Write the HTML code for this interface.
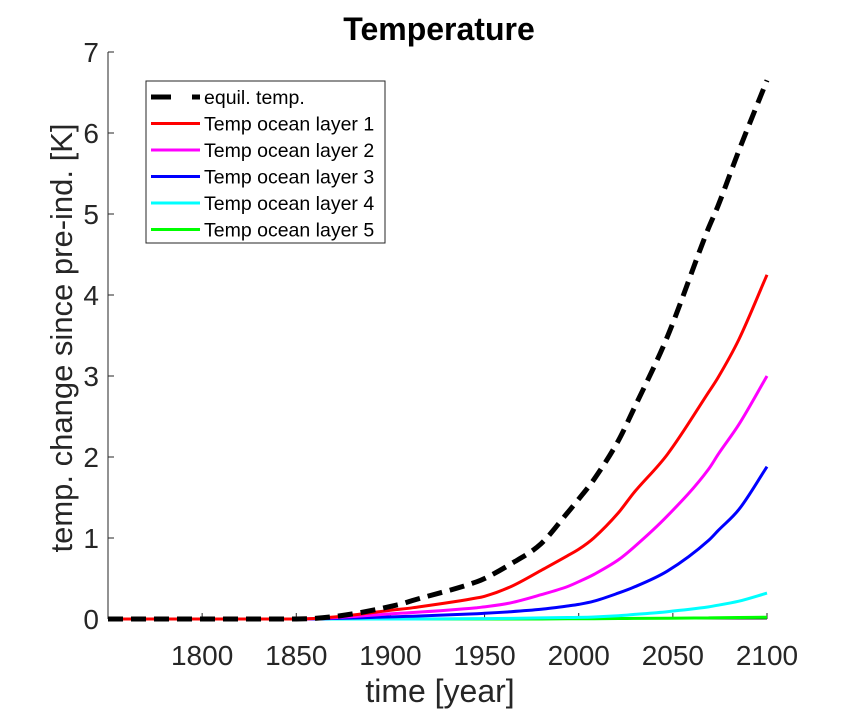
<!DOCTYPE html>
<html><head><meta charset="utf-8"><style>
html,body{margin:0;padding:0;background:#fff;}
svg text{font-family:"Liberation Sans",Arial,sans-serif;}
</style></head><body>
<svg id="chart" width="848" height="712" viewBox="0 0 848 712" xmlns="http://www.w3.org/2000/svg">
<rect width="848" height="712" fill="#fff"/>
<text x="439" y="40" text-anchor="middle" font-size="32" font-weight="bold" fill="#000">Temperature</text>
<g id="axes"></g>
<g id="series"></g>
<text x="440" y="702" text-anchor="middle" font-size="32" fill="#262626">time [year]</text>
<text transform="translate(72,338) rotate(-90)" text-anchor="middle" font-size="31" fill="#262626">temp. change since pre-ind. [K]</text>
<g>
<rect x="146" y="81" width="239" height="162" fill="#fff" stroke="#262626" stroke-width="1"/>
<g id="legend-items"></g>
</g>
</svg>
<script>
const years = [1750, 1850, 1905, 1912, 1946, 1950, 1964, 1980, 1994, 2000, 2008, 2021, 2029, 2047, 2069, 2074, 2085, 2100];
const equil = [0, 0, 0.18, 0.23, 0.46, 0.5, 0.68, 0.93, 1.31, 1.48, 1.72, 2.2, 2.58, 3.48, 4.83, 5.1, 5.78, 6.65];
const layer1 = [0, 0, 0.12, 0.14, 0.26, 0.28, 0.4, 0.6, 0.78, 0.86, 1.0, 1.31, 1.55, 2.03, 2.8, 2.98, 3.45, 4.25];
const layer2 = [0, 0, 0.07, 0.08, 0.14, 0.15, 0.2, 0.3, 0.4, 0.46, 0.55, 0.73, 0.88, 1.27, 1.85, 2.03, 2.4, 3.0];
const layer3 = [0, 0, 0.03, 0.035, 0.065, 0.07, 0.09, 0.12, 0.16, 0.18, 0.22, 0.32, 0.39, 0.59, 0.97, 1.09, 1.35, 1.88];
const layer4 = [0, 0, 0, 0, 0.005, 0.005, 0.008, 0.014, 0.018, 0.02, 0.025, 0.04, 0.055, 0.09, 0.15, 0.17, 0.22, 0.32];
const layer5 = [0, 0, 0, 0, 0, 0, 0, 0, 0.002, 0.003, 0.004, 0.006, 0.007, 0.01, 0.014, 0.015, 0.018, 0.022];
const xTicks = [1800, 1850, 1900, 1950, 2000, 2050, 2100];
const yTicks = [0, 1, 2, 3, 4, 5, 6, 7];
const seriesNames = ["equil. temp.", "Temp ocean layer 1", "Temp ocean layer 2", "Temp ocean layer 3", "Temp ocean layer 4", "Temp ocean layer 5"];

const X0 = 108, X1 = 767, Y0 = 619, Y1 = 52;
const xMin = 1750, xMax = 2100, yMin = 0, yMax = 7;
function sx(v){ return X0 + (v - xMin) / (xMax - xMin) * (X1 - X0); }
function sy(v){ return Y0 - (v - yMin) / (yMax - yMin) * (Y0 - Y1); }
const NS = "http://www.w3.org/2000/svg";
function mk(tag, attrs, parent){ const e = document.createElementNS(NS, tag); for (const k in attrs) e.setAttribute(k, attrs[k]); parent.appendChild(e); return e; }

function smoothPath(xs, ys){
  const n = xs.length, m = [], d = [];
  for (let i = 0; i < n - 1; i++) d.push((ys[i+1]-ys[i])/(xs[i+1]-xs[i]));
  for (let i = 0; i < n; i++){
    if (i === 0) m.push(d[0]); else if (i === n-1) m.push(d[n-2]);
    else m.push(d[i-1]*d[i] <= 0 ? 0 : (d[i-1]+d[i])/2);
  }
  for (let i = 0; i < n - 1; i++){
    if (d[i] === 0){ m[i] = 0; m[i+1] = 0; continue; }
    const a = m[i]/d[i], b = m[i+1]/d[i], s = a*a + b*b;
    if (s > 9){ const t = 3/Math.sqrt(s); m[i] = t*a*d[i]; m[i+1] = t*b*d[i]; }
  }
  let p = 'M' + xs[0].toFixed(1) + ',' + ys[0].toFixed(1);
  for (let i = 0; i < n - 1; i++){
    const h = (xs[i+1]-xs[i])/3;
    p += ' C' + (xs[i]+h).toFixed(1) + ',' + (ys[i]+m[i]*h).toFixed(1) + ' ' + (xs[i+1]-h).toFixed(1) + ',' + (ys[i+1]-m[i+1]*h).toFixed(1) + ' ' + xs[i+1].toFixed(1) + ',' + ys[i+1].toFixed(1);
  }
  return p;
}

const axes = document.getElementById('axes');
const xl = mk('line', {x1: X0, y1: Y0, x2: X1, y2: Y0, stroke: '#262626', 'stroke-width': 1}, axes);


const yl = mk('line', {x1: X0, y1: Y0, x2: X0, y2: Y1, stroke: '#262626', 'stroke-width': 1}, axes);


xTicks.forEach(t => {
  const x = sx(t);
  const tk = mk('line', {x1: x, y1: Y0, x2: x, y2: Y0 - 6, stroke: '#262626', 'stroke-width': 1}, axes);
  
  
  const tx = mk('text', {x: x, y: 665, 'text-anchor': 'middle', 'font-size': 28, fill: '#262626'}, axes);
  tx.textContent = t;
  
  
});
yTicks.forEach(t => {
  const y = sy(t);
  const tk = mk('line', {x1: X0, y1: y, x2: X0 + 6, y2: y, stroke: '#262626', 'stroke-width': 1}, axes);
  
  
  const tx = mk('text', {x: 99, y: y + 10, 'text-anchor': 'end', 'font-size': 28, fill: '#262626'}, axes);
  tx.textContent = t;
  
  
});

const seriesData = [equil, layer1, layer2, layer3, layer4, layer5];
const colors = ['#000000', '#ff0000', '#ff00ff', '#0000ff', '#00ffff', '#00ff00'];
const seriesKeys = ['equil-temp-line', 'ocean-layer-1-line', 'ocean-layer-2-line', 'ocean-layer-3-line', 'ocean-layer-4-line', 'ocean-layer-5-line'];
const sg = document.getElementById('series');
for (let s = seriesData.length - 1; s >= 0; s--) {
  const d = smoothPath(years.map(sx), seriesData[s].map(sy));
  const attrs = {d: d, fill: 'none', stroke: colors[s], 'stroke-width': s === 0 ? 5 : 3, 'stroke-linejoin': 'round'};
  if (s === 0) attrs['stroke-dasharray'] = '15 8';
  const p = mk('path', attrs, sg);
  
  
}

const lg = document.getElementById('legend-items');
seriesNames.forEach((n, i) => {
  const y = 97 + i * 26.5;
  const la = {x1: 151, y1: y, x2: 200, y2: y, stroke: colors[i], 'stroke-width': i === 0 ? 5 : 3};
  if (i === 0) la['stroke-dasharray'] = '20 21';
  const ln = mk('line', la, lg);
  
  
  const t = mk('text', {x: 204, y: y + 7, 'font-size': 19.5, fill: '#000'}, lg);
  t.textContent = n;
  
  
});
</script>
</body></html>
